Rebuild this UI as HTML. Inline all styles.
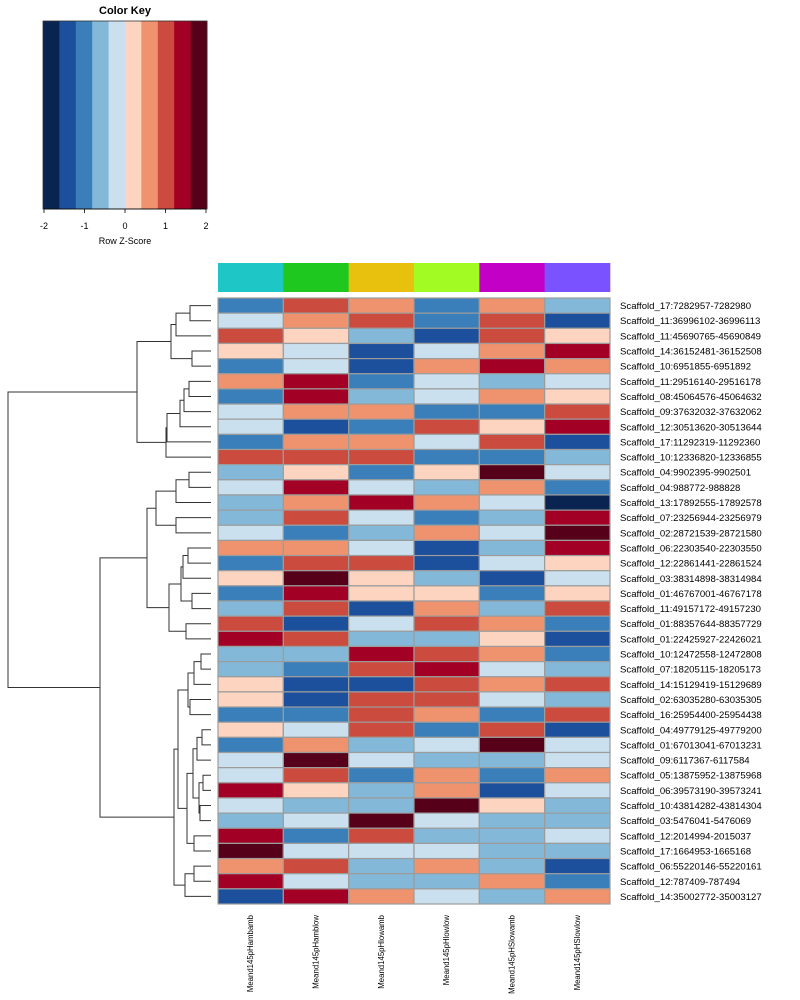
<!DOCTYPE html>
<html><head><meta charset="utf-8"><style>
html,body{margin:0;padding:0;background:#fff;}
svg{display:block;font-family:"Liberation Sans",sans-serif;}
</style></head><body>
<svg id="chart" width="800" height="1000" viewBox="0 0 800 1000" xmlns="http://www.w3.org/2000/svg">
<g id="key"></g>
<g id="colbar"></g>
<g id="cells"></g>
<g id="dendro"></g>
<g id="rowlabels"></g>
<g id="collabels"></g>
</svg>
<script>
const palette = ["#0a2451","#1c4f9c","#3a7fba","#84b8d8","#cae0ee","#fcd4bf","#ef926e","#cb4b3f","#a20024","#57001a"];
const keyTicks = [-2,-1,0,1,2];
const columns = ["Meand145pHambamb","Meand145pHamblow","Meand145pHlowamb","Meand145pHlowlow","Meand145pHSlowamb","Meand145pHSlowlow"];
const columnColors = ["#1ec6c6","#1ec81e","#e8c00e","#a2fb22","#c300c6","#7a52ff"];
const rows = ["Scaffold_17:7282957-7282980","Scaffold_11:36996102-36996113","Scaffold_11:45690765-45690849","Scaffold_14:36152481-36152508","Scaffold_10:6951855-6951892","Scaffold_11:29516140-29516178","Scaffold_08:45064576-45064632","Scaffold_09:37632032-37632062","Scaffold_12:30513620-30513644","Scaffold_17:11292319-11292360","Scaffold_10:12336820-12336855","Scaffold_04:9902395-9902501","Scaffold_04:988772-988828","Scaffold_13:17892555-17892578","Scaffold_07:23256944-23256979","Scaffold_02:28721539-28721580","Scaffold_06:22303540-22303550","Scaffold_12:22861441-22861524","Scaffold_03:38314898-38314984","Scaffold_01:46767001-46767178","Scaffold_11:49157172-49157230","Scaffold_01:88357644-88357729","Scaffold_01:22425927-22426021","Scaffold_10:12472558-12472808","Scaffold_07:18205115-18205173","Scaffold_14:15129419-15129689","Scaffold_02:63035280-63035305","Scaffold_16:25954400-25954438","Scaffold_04:49779125-49779200","Scaffold_01:67013041-67013231","Scaffold_09:6117367-6117584","Scaffold_05:13875952-13875968","Scaffold_06:39573190-39573241","Scaffold_10:43814282-43814304","Scaffold_03:5476041-5476069","Scaffold_12:2014994-2015037","Scaffold_17:1664953-1665168","Scaffold_06:55220146-55220161","Scaffold_12:787409-787494","Scaffold_14:35002772-35003127"];
// binned z-score values (0..9 => -2..2)
const values = [
[2,7,6,2,6,3],[4,6,7,2,7,1],[7,5,3,1,7,5],[5,4,1,4,6,8],[2,4,1,6,8,6],
[6,8,2,4,3,4],[2,8,3,4,6,5],[4,6,6,2,2,7],[4,1,2,7,5,8],[2,6,6,4,7,1],
[7,7,7,2,2,3],[3,5,2,5,9,4],[4,8,4,3,6,2],[3,6,8,6,4,0],[3,7,4,2,3,8],
[4,2,3,6,4,9],[6,6,4,1,3,8],[2,7,7,1,4,5],[5,9,5,3,1,4],[2,8,5,5,2,5],
[3,7,1,6,3,7],[7,1,4,7,6,2],[8,7,3,3,5,1],[3,3,8,7,6,2],[3,2,7,8,4,3],
[5,1,1,7,6,7],[5,1,7,7,4,3],[2,2,7,6,2,7],[5,4,7,2,7,1],[2,6,3,4,9,4],
[4,9,4,3,3,4],[4,7,2,6,2,6],[8,5,3,6,1,4],[4,3,3,9,5,3],[3,4,9,4,3,3],
[8,2,7,3,3,4],[9,4,4,4,3,3],[6,7,3,6,3,1],[8,4,3,3,6,2],[1,8,6,4,3,6]];
const n = (a,b,h)=>({a,b,h});
const tree = n(
  n(
    n(n(n(0,1,21),2,35),n(3,4,19),40),
    n(n(n(n(n(5,6,22),7,27),8,31),9,44),10,45),
  74),
  n(
    n(
      n(n(n(11,12,22),13,35),n(14,15,35),55),
      n(n(n(n(16,17,23),18,28),n(19,20,19),30),n(21,22,25),42),
    64),
    n(
      n(
        n(n(n(23,24,10),25,17),n(26,27,21),23),
        n(n(n(n(28,29,9),30,14),n(n(31,32,8),n(33,34,11),12),18),n(35,36,17),24),
      33),
      n(n(37,38,17),39,26),
    37),
  111),
203);

const svg = document.getElementById('chart');
const NS = 'http://www.w3.org/2000/svg';
function mk(tag, attrs, parent){const e=document.createElementNS(NS,tag);for(const k in attrs)e.setAttribute(k,attrs[k]);parent.appendChild(e);return e;}

const X0=218, X1=610, Y0=298, Y1=904;
const colW=(X1-X0)/columns.length, rowH=(Y1-Y0)/rows.length;
const xCol=i=>X0+i*colW;
const yRow=i=>Y0+i*rowH;
const leafX=211, heightScale=1;
const xH=h=>leafX-h*heightScale;

const key=document.getElementById('key');
const KX0=43,KX1=207,KY0=21,KY1=209;
const kw=(KX1-KX0)/palette.length;
palette.forEach((c,i)=>{
  const r=mk('rect',{x:KX0+i*kw,y:KY0,width:kw+0.5,height:KY1-KY0,fill:c},key);
  
  
});
mk('rect',{x:KX0,y:KY0,width:KX1-KX0,height:KY1-KY0,fill:'none',stroke:'#333','stroke-width':0.8},key);
const kt=mk('text',{x:125,y:14,'text-anchor':'middle','font-size':11,'font-weight':'bold',fill:'#000'},key);
kt.textContent='Color Key';


const keyX=v=>KX0+1+(v+2)/4*(KX1-KX0-2);
mk('line',{x1:keyX(-2),x2:keyX(2),y1:KY1,y2:KY1,stroke:'#000','stroke-width':0.8},key);
keyTicks.forEach(v=>{
  mk('line',{x1:keyX(v),x2:keyX(v),y1:KY1,y2:KY1+4,stroke:'#000','stroke-width':0.8},key);
  const t=mk('text',{x:keyX(v),y:229,'text-anchor':'middle','font-size':9,fill:'#000'},key);
  t.textContent=String(v);
  
  
});
const kx=mk('text',{x:125,y:244,'text-anchor':'middle','font-size':9,fill:'#000'},key);
kx.textContent='Row Z-Score';



const cb=document.getElementById('colbar');
columnColors.forEach((c,i)=>{
  const r=mk('rect',{x:xCol(i),y:263,width:colW+0.3,height:29,fill:c},cb);
  
  
});

const cells=document.getElementById('cells');
values.forEach((row,ri)=>row.forEach((v,ci)=>{
  const r=mk('rect',{x:xCol(ci),y:yRow(ri),width:colW,height:rowH,fill:palette[v],stroke:'#9c9c9c','stroke-width':1.2},cells);
  
  
}));

const rl=document.getElementById('rowlabels');
rows.forEach((s,i)=>{
  const t=mk('text',{x:620,y:yRow(i)+rowH/2+3.5,'font-size':9.6,fill:'#000'},rl);
  t.textContent=s;
  
  
});

const cl=document.getElementById('collabels');
columns.forEach((s,i)=>{
  const cx=xCol(i)+colW/2+2.5, cy=915;
  const t=mk('text',{x:cx,y:cy,'font-size':7.8,fill:'#000','text-anchor':'end',transform:`rotate(-90 ${cx} ${cy})`},cl);
  t.textContent=s;
  
  
});

const dg=document.getElementById('dendro');
function draw(node){
  if(typeof node==='number') return {y:yRow(node)+rowH/2,x:leafX};
  const L=draw(node.a), R=draw(node.b), x=xH(node.h);
  const st={stroke:'#333','stroke-width':1,fill:'none'};
  const p=mk('path',Object.assign({d:`M${L.x},${L.y}H${x}V${R.y}H${R.x}`},st),dg);
  
  
  return {x, y:(L.y+R.y)/2};
}
draw(tree);
</script>
</body></html>
